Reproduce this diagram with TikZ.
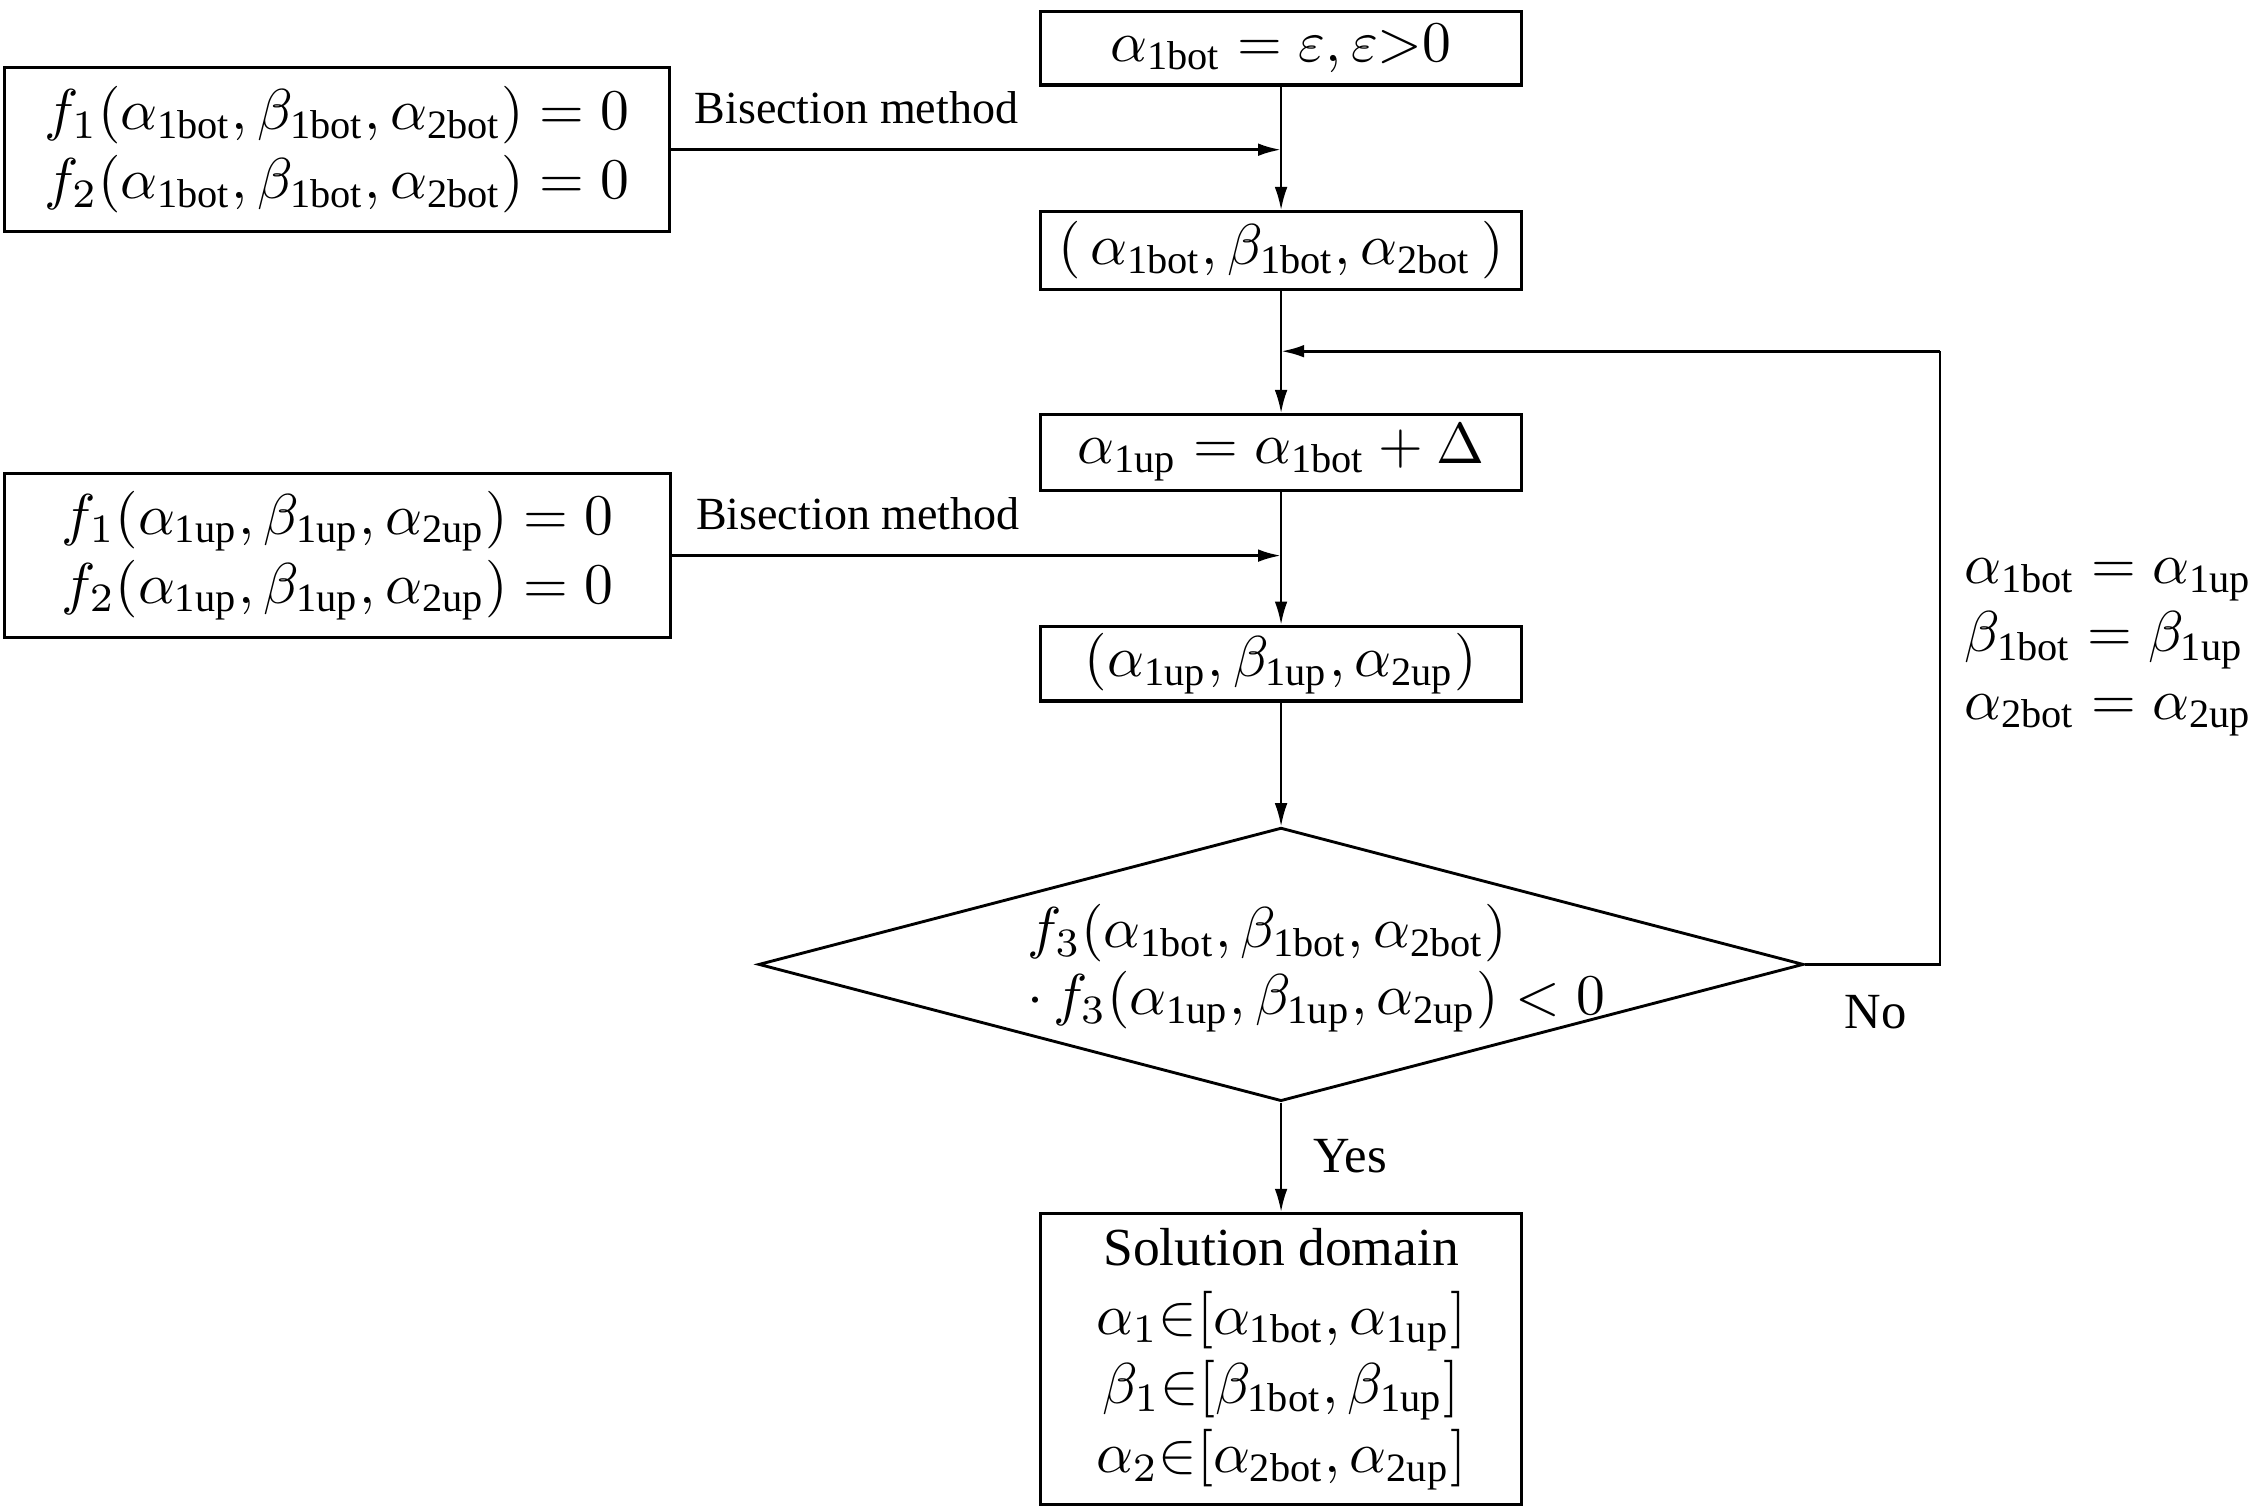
\documentclass[tikz,border=0pt]{standalone}
\usepackage{fontspec}
\setmainfont{Liberation Serif}
\usetikzlibrary{arrows.meta,shapes.geometric}
\newcommand{\mybot}[1]{_{\mathrm{#1bot}}}
\newcommand{\myup}[1]{_{\mathrm{#1up}}}
\begin{document}
\begin{tikzpicture}[x=0.25pt,y=-0.25pt,
  box/.style={draw,line width=0.55pt,minimum width=83.5pt,inner sep=0pt,align=center,font=\fontsize{10}{12}\selectfont},
  arr/.style={-{Latex[length=4pt,width=2.2pt]},line width=0.35pt},
  harr/.style={-{Latex[length=4pt,width=2.2pt]},line width=0.5pt},
  lbl/.style={inner sep=0pt,font=\fontsize{8}{9.6}\selectfont},
  yn/.style={inner sep=0pt,font=\fontsize{8.8}{10}\selectfont}]
\useasboundingbox (0,0) rectangle (1568,1049);
% main column
\node[box,minimum height=12.75pt] (n1) at (890,33.5) {$\alpha\mybot1=\varepsilon,\varepsilon{>}0$};
\node[box,minimum height=13.5pt] (n2) at (890,174) {$(\,\alpha\mybot1,\beta\mybot1,\alpha\mybot2\,)$};
\node[box,minimum height=13.25pt] (n3) at (890,314.5) {$\alpha\myup1=\alpha\mybot1+\Delta$};
\node[box,minimum height=13pt] (n4) at (890,461) {$(\alpha\myup1,\beta\myup1,\alpha\myup2)$};
\node[draw,diamond,line width=0.5pt,minimum width=181.5pt,minimum height=47.5pt,inner sep=0pt] (d) at (890,670) {};
\node[inner sep=0pt,anchor=west,align=left,font=\fontsize{10}{11.6}\selectfont] (dt) at (713,672.5)
  {$f_3(\alpha\mybot1,\beta\mybot1,\alpha\mybot2)$\\$\cdot\,f_3(\alpha\myup1,\beta\myup1,\alpha\myup2)<0$};
\node[box,minimum height=50.5pt] (F) at (890,944)
  {{\fontsize{9.3}{12}\selectfont Solution domain}\\
   $\alpha_1{\in}[\alpha\mybot1,\alpha\myup1]$\\
   $\beta_1{\in}[\beta\mybot1,\beta\myup1]$\\
   $\alpha_2{\in}[\alpha\mybot2,\alpha\myup2]$};
% left boxes
\node[box,minimum width=115.5pt,minimum height=28.5pt] (L1) at (234,104)
  {$f_1(\alpha\mybot1,\beta\mybot1,\alpha\mybot2)=0$\\$f_2(\alpha\mybot1,\beta\mybot1,\alpha\mybot2)=0$};
\node[box,minimum width=115.75pt,minimum height=28.5pt] (L2) at (234.5,386)
  {$f_1(\alpha\myup1,\beta\myup1,\alpha\myup2)=0$\\$f_2(\alpha\myup1,\beta\myup1,\alpha\myup2)=0$};
% labels
\node[lbl] (b1) at (595,75) {Bisection method};
\node[lbl] (b2) at (596,357) {Bisection method};
\node[yn] (no) at (1303,703) {No};
\node[yn] (yes) at (938,803) {Yes};
\node[inner sep=0pt,anchor=west,align=left,font=\fontsize{10}{11.75}\selectfont] (R) at (1364,450)
  {$\alpha\mybot1=\alpha\myup1$\\$\beta\mybot1=\beta\myup1$\\$\alpha\mybot2=\alpha\myup2$};
% connectors
\coordinate (fb) at (1348,244);
\draw[arr] (n1.south) -- (n2.north);
\draw[arr] (n2.south) -- (n3.north);
\draw[arr] (n3.south) -- (n4.north);
\draw[arr] (n4.south) -- (d.north);
\draw[arr] (d.south) -- (F.north);
\draw[harr] (L1.east) -- (L1.east -| n1.south);
\draw[harr] (L2.east) -- (L2.east -| n3.south);
\draw[line width=0.4pt] (d.east) -| (fb);
\draw[harr] (fb) -- (fb -| n2.south);
\end{tikzpicture}
\end{document}
